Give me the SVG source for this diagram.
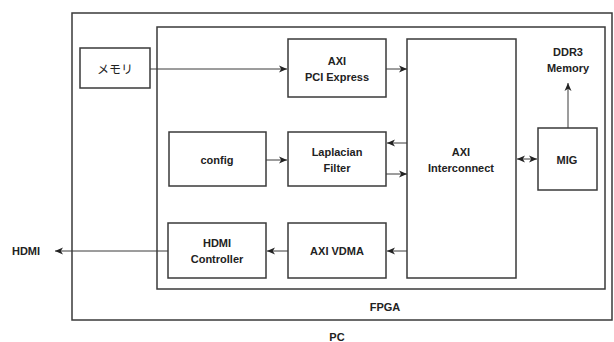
<svg xmlns="http://www.w3.org/2000/svg" width="614" height="342" viewBox="0 0 614 342">
<style>
.box{fill:#fff;stroke:#3a3a3a;stroke-width:1.5}
.cont{fill:none;stroke:#3a3a3a;stroke-width:1.5}
.t{font-family:"Liberation Sans",Arial,sans-serif;font-weight:bold;font-size:11px;fill:#222;text-anchor:middle;dominant-baseline:central}
.j{font-family:"Noto Sans CJK JP","Liberation Sans",sans-serif;font-size:12px;fill:#222;text-anchor:middle;dominant-baseline:central}
.c{stroke:#3a3a3a;stroke-width:1;fill:none}
</style>
<defs>
<marker id="ah" viewBox="0 0 8 8" refX="8" refY="4" markerWidth="8" markerHeight="8" markerUnits="userSpaceOnUse" orient="auto-start-reverse">
<path d="M0,0.5 L8,4 L0,7.5 L2.2,4 Z" fill="#222"/>
</marker>
</defs>
<rect width="614" height="342" fill="#fff"/>
<g id="pc">
<rect class="cont" x="72" y="13" width="540" height="307"/>
<text class="t" x="337" y="337">PC</text>
</g>
<g id="fpga">
<rect class="cont" x="157" y="27" width="448" height="262"/>
<text class="t" x="385" y="307">FPGA</text>
</g>
<g id="memory">
<rect class="box" x="80" y="48" width="70" height="40"/>
<text class="j" x="115" y="68">メモリ</text>
</g>
<g id="pcie">
<rect class="box" x="288" y="39" width="98" height="58"/>
<text class="t" x="337" y="61">AXI</text>
<text class="t" x="337" y="77">PCI Express</text>
</g>
<g id="config">
<rect class="box" x="169" y="132" width="97" height="54"/>
<text class="t" x="217" y="160">config</text>
</g>
<g id="laplacian">
<rect class="box" x="288" y="132" width="98" height="54"/>
<text class="t" x="337" y="152">Laplacian</text>
<text class="t" x="337" y="168">Filter</text>
</g>
<g id="interconnect">
<rect class="box" x="407" y="39" width="109" height="239"/>
<text class="t" x="461" y="152">AXI</text>
<text class="t" x="461" y="168">Interconnect</text>
</g>
<g id="mig">
<rect class="box" x="538" y="128" width="59" height="62"/>
<text class="t" x="567" y="160">MIG</text>
</g>
<g id="ddr3">
<text class="t" x="568" y="52">DDR3</text>
<text class="t" x="568" y="68">Memory</text>
</g>
<g id="hdmictrl">
<rect class="box" x="168" y="223" width="98" height="55"/>
<text class="t" x="217" y="243">HDMI</text>
<text class="t" x="217" y="259">Controller</text>
</g>
<g id="vdma">
<rect class="box" x="288" y="223" width="98" height="55"/>
<text class="t" x="337" y="251">AXI VDMA</text>
</g>
<g id="hdmi">
<text class="t" x="26" y="251">HDMI</text>
</g>
<g id="connectors">
<line class="c" x1="150" y1="69" x2="287" y2="69" marker-end="url(#ah)"/>
<line class="c" x1="386" y1="69" x2="407" y2="69" marker-end="url(#ah)"/>
<line class="c" x1="266" y1="160" x2="287" y2="160" marker-end="url(#ah)"/>
<line class="c" x1="407" y1="143" x2="387" y2="143" marker-end="url(#ah)"/>
<line class="c" x1="386" y1="174" x2="407" y2="174" marker-end="url(#ah)"/>
<line class="c" x1="517" y1="159" x2="537" y2="159" marker-start="url(#ah)" marker-end="url(#ah)"/>
<line class="c" x1="568" y1="128" x2="568" y2="83" marker-end="url(#ah)"/>
<line class="c" x1="407" y1="251" x2="387" y2="251" marker-end="url(#ah)"/>
<line class="c" x1="288" y1="251" x2="267" y2="251" marker-end="url(#ah)"/>
<line class="c" x1="168" y1="251" x2="55" y2="251" marker-end="url(#ah)"/>
</g>
</svg>
